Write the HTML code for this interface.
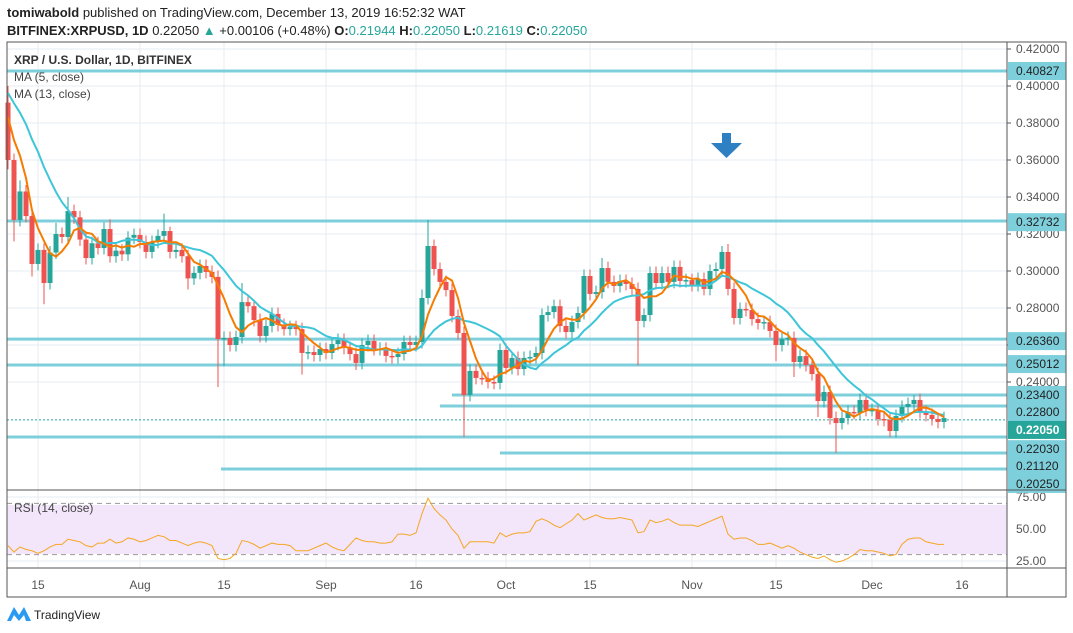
<!DOCTYPE html>
<html><head><meta charset="utf-8"><style>
body{margin:0;background:#fff;font-family:"Liberation Sans",sans-serif}
svg{display:block}
</style></head><body>
<svg id="c" width="1073" height="633" xmlns="http://www.w3.org/2000/svg">
<text x="7" y="17" font-size="13" fill="#222"><tspan font-weight="bold">tomiwabold</tspan> published on TradingView.com, December 13, 2019 16:52:32 WAT</text>
<text x="7" y="35" font-size="13" fill="#222"><tspan font-weight="bold">BITFINEX:XRPUSD, 1D</tspan> 0.22050 <tspan fill="#26a69a">▲</tspan> +0.00106 (+0.48%) <tspan font-weight="bold">O:</tspan><tspan fill="#26a69a">0.21944</tspan> <tspan font-weight="bold">H:</tspan><tspan fill="#26a69a">0.22050</tspan> <tspan font-weight="bold">L:</tspan><tspan fill="#26a69a">0.21619</tspan> <tspan font-weight="bold">C:</tspan><tspan fill="#26a69a">0.22050</tspan></text>
<g id="grid"></g>
<rect x="7" y="505" width="1000" height="49" fill="#f3e6fb"/>
<g id="levels"></g>
<g id="candles"></g>
<g id="mas"></g>
<g id="rsi"></g>
<g id="axis"></g>
<rect x="7" y="42" width="1059" height="555" fill="none" stroke="#555" stroke-width="1"/>
<line x1="1007" y1="42" x2="1007" y2="597" stroke="#555"/>
<line x1="7" y1="490" x2="1066" y2="490" stroke="#555"/>
<line x1="7" y1="568" x2="1066" y2="568" stroke="#555"/>
<text x="14" y="64" font-size="12" font-weight="bold" fill="#333">XRP / U.S. Dollar, 1D, BITFINEX</text>
<text x="14" y="81" font-size="12" fill="#444">MA (5, close)</text>
<text x="14" y="98" font-size="12" fill="#444">MA (13, close)</text>
<text x="14" y="512" font-size="12" fill="#444">RSI (14, close)</text>
<g><rect x="722" y="133" width="9" height="14" fill="#2f80c2"/><polygon points="711,143 742,143 726.5,158" fill="#2f80c2"/></g>
<g><polygon points="7,621 14,607 19,615 24,607 31,621 26,621 24,615 19,621 14,615 11,621" fill="#2b9af3"/><text x="34" y="619" font-size="12" fill="#222">TradingView</text></g>
</svg>
<script>
const closes=[0.360,0.3276,0.343,0.3297,0.3038,0.3114,0.2935,0.310,0.320,0.3184,
0.3324,0.329,0.317,0.307,0.315,0.3124,0.3227,0.308,0.311,0.309,
0.318,0.3195,0.3157,0.3103,0.3157,0.319,0.3216,0.3103,0.3114,0.308,
0.296,0.299,0.3027,0.2995,0.2968,0.2632,0.2638,0.260,0.2643,0.2832,
0.281,0.2735,0.2649,0.2703,0.2768,0.2708,0.2686,0.2697,0.2686,0.2557,
0.2562,0.2546,0.2578,0.2557,0.2605,0.2627,0.2584,0.2551,0.2503,0.260,
0.2622,0.2578,0.258,0.2541,0.2535,0.2551,0.2616,0.26,0.2616,0.2854,
0.3135,0.3011,0.2941,0.2897,0.2757,0.2665,0.233,0.246,0.2422,0.242,
0.24,0.2395,0.2573,0.2476,0.253,0.247,0.253,0.2535,0.2557,0.2762,
0.2778,0.281,0.2703,0.267,0.2724,0.2773,0.2973,0.2876,0.2886,0.3016,
0.2941,0.2919,0.2946,0.293,0.2903,0.273,0.2762,0.2989,0.2935,0.2989,
0.2941,0.3022,0.2946,0.2951,0.2924,0.2957,0.2903,0.300,0.3011,0.3103,
0.2903,0.2746,0.2795,0.2789,0.274,0.2719,0.2724,0.2676,0.26,0.2632,
0.2638,0.2508,0.254,0.2492,0.2443,0.2297,0.2346,0.2205,0.2178,0.2205,
0.2238,0.2232,0.2303,0.2249,0.2249,0.22,0.2195,0.2135,0.2216,0.2265,
0.2281,0.2303,0.2238,0.2222,0.22,0.2184,0.2205];
const priorCloses=[0.40,0.41,0.41,0.41,0.40,0.40,0.40,0.405,0.39,0.385,0.39,0.391];
const highOverrides={0:0.40,2:0.349,8:0.326,10:0.340,17:0.328,26:0.331,27:0.324,39:0.2935,69:0.290,70:0.3276,99:0.307,119:0.3135,120:0.3146,151:0.233};
const lowOverrides={0:0.355,1:0.316,4:0.297,6:0.282,30:0.290,35:0.2373,36:0.2486,49:0.244,58:0.2465,76:0.2103,105:0.249,128:0.2513,131:0.2427,135:0.2211,138:0.2017,147:0.2103};
const rsiValues=[37,32,36,34,33,31,33,36,38,38,42,41,40,37,36,39,39,42,39,40,
43,42,40,41,43,45,44,41,41,39,37,39,40,39,37,27,26,27,31,41,
40,38,35,37,39,38,38,37,33,33,33,35,37,39,36,34,33,38,43,41,
40,40,39,39,40,46,46,45,47,62,74,66,61,57,50,45,35,40,40,40,
40,39,47,44,46,47,47,48,56,58,56,53,51,54,57,62,57,59,61,59,
58,58,59,58,57,47,48,57,55,56,58,55,53,53,53,52,54,56,58,60,
46,42,43,43,41,38,38,39,37,35,37,35,32,30,28,27,29,26,24,25,
27,30,34,33,33,32,31,29,30,38,42,43,43,40,39,38,38];
const priceTicks=[0.42,0.40,0.38,0.36,0.34,0.32,0.30,0.28,0.26,0.24];
const levelPrices=[0.4081,0.3270,0.2632,0.2492,0.2330,0.2270,0.2103,0.2016,0.1930];
const levelStartIdx=[-1,-1,-1,-1,74,72,-1,82,35.5];
const levelLabels=["0.40827","0.32732","0.26360","0.25012","0.23400","0.22800","0.22030","0.21120","0.20250"];
const levelLabelPrices=[0.4081,0.3264,0.2621,0.2497,0.2330,0.2238,0.2037,0.1946,0.1849];
const lastPrice=0.2195;
const timeLabels=["15","Aug","15","Sep","16","Oct","15","Nov","15","Dec","16"];
const timeIdx=[5,22,36,53,68,83,97,114,128,144,159];
const rsiTicks=[75,50,25];

const NS="http://www.w3.org/2000/svg";
const X=i=>8+i*6.0;
const Y=p=>49+(0.42-p)*1850;
const RY=v=>529-(v-50)*1.28;
function mk(t,a,parent){const e=document.createElementNS(NS,t);for(const k in a)e.setAttribute(k,a[k]);document.getElementById(parent).appendChild(e);return e;}

priceTicks.forEach(p=>{const l=mk('line',{x1:7,x2:1007,y1:Y(p),y2:Y(p),stroke:'#e6ecf2'},'grid');

});
[75,50,25].forEach(v=>{const l=mk('line',{x1:7,x2:1007,y1:RY(v),y2:RY(v),stroke:'#e6ecf2'},'grid');

});
timeIdx.forEach(i=>{const l=mk('line',{x1:X(i),x2:X(i),y1:42,y2:568,stroke:'#e6ecf2'},'grid');

});
[70,30].forEach(v=>{const l=mk('line',{x1:7,x2:1007,y1:RY(v),y2:RY(v),stroke:'#999','stroke-dasharray':'5,4'},'grid');

});

levelPrices.forEach((p,k)=>{const x1=levelStartIdx[k]<0?7:X(levelStartIdx[k]);
const l=mk('line',{x1:x1,x2:1007,y1:Y(p),y2:Y(p),stroke:'#7ecfdc','stroke-width':3},'levels');

});
const pl=mk('line',{x1:7,x2:1007,y1:Y(lastPrice),y2:Y(lastPrice),stroke:'#26a69a','stroke-dasharray':'2,2'},'levels');



let prev=priorCloses[priorCloses.length-1];
closes.forEach((c,i)=>{const o=prev;prev=c;const up=c>=o;const col=up?'#26a69a':'#ef5350';
const top=Math.max(o,c),bot=Math.min(o,c);
const h=highOverrides[i]!==undefined?highOverrides[i]:top+0.0035;
const l=lowOverrides[i]!==undefined?lowOverrides[i]:bot-0.0035;
const g=mk('g',{},'candles');


const w=document.createElementNS(NS,'line');w.setAttribute('x1',X(i));w.setAttribute('x2',X(i));w.setAttribute('y1',Y(h));w.setAttribute('y2',Y(l));w.setAttribute('stroke',col);g.appendChild(w);
const r=document.createElementNS(NS,'rect');r.setAttribute('x',X(i)-2.5);r.setAttribute('width',5);r.setAttribute('y',Y(top));r.setAttribute('height',Math.max(1.5,Y(bot)-Y(top)));r.setAttribute('fill',col);g.appendChild(r);});

function ma(n){const all=priorCloses.concat(closes);const off=priorCloses.length;const pts=[];
closes.forEach((c,i)=>{let s=0;for(let k=0;k<n;k++)s+=all[off+i-k];pts.push(X(i)+','+Y(s/n));});return pts.join(' ');}
const m13=mk('polyline',{points:ma(13),fill:'none',stroke:'#3ec6d8','stroke-width':2},'mas');


const m5=mk('polyline',{points:ma(5),fill:'none',stroke:'#f57c00','stroke-width':2},'mas');



const rl=mk('polyline',{points:rsiValues.map((v,i)=>X(i)+','+RY(v)).join(' '),fill:'none',stroke:'#f5a623','stroke-width':1},'rsi');



priceTicks.forEach(p=>{const t=mk('text',{x:1016,y:Y(p)+4,'font-size':12,fill:'#555'},'axis');t.textContent=p.toFixed(5);


mk('line',{x1:1007,x2:1011,y1:Y(p),y2:Y(p),stroke:'#555'},'axis');});
rsiTicks.forEach(v=>{const t=mk('text',{x:1016,y:RY(v)+4,'font-size':12,fill:'#555'},'axis');t.textContent=v.toFixed(2);

});
levelLabels.forEach((s,k)=>{const y=Y(levelLabelPrices[k]);
const r=mk('rect',{x:1008,y:y-9,width:58,height:18,fill:'#7ecfdc'},'axis');


const t=mk('text',{x:1016,y:y+4,'font-size':12,fill:'#222'},'axis');t.textContent=s;

});
const lb=mk('rect',{x:1008,y:Y(lastPrice)+1,width:58,height:18,fill:'#26a69a'},'axis');


const lt=mk('text',{x:1016,y:Y(lastPrice)+14,'font-size':12,'font-weight':'bold',fill:'#fff'},'axis');lt.textContent='0.22050';


timeLabels.forEach((s,k)=>{const t=mk('text',{x:X(timeIdx[k]),y:589,'font-size':12,fill:'#555','text-anchor':'middle'},'axis');t.textContent=s;

});
</script>
</body></html>
